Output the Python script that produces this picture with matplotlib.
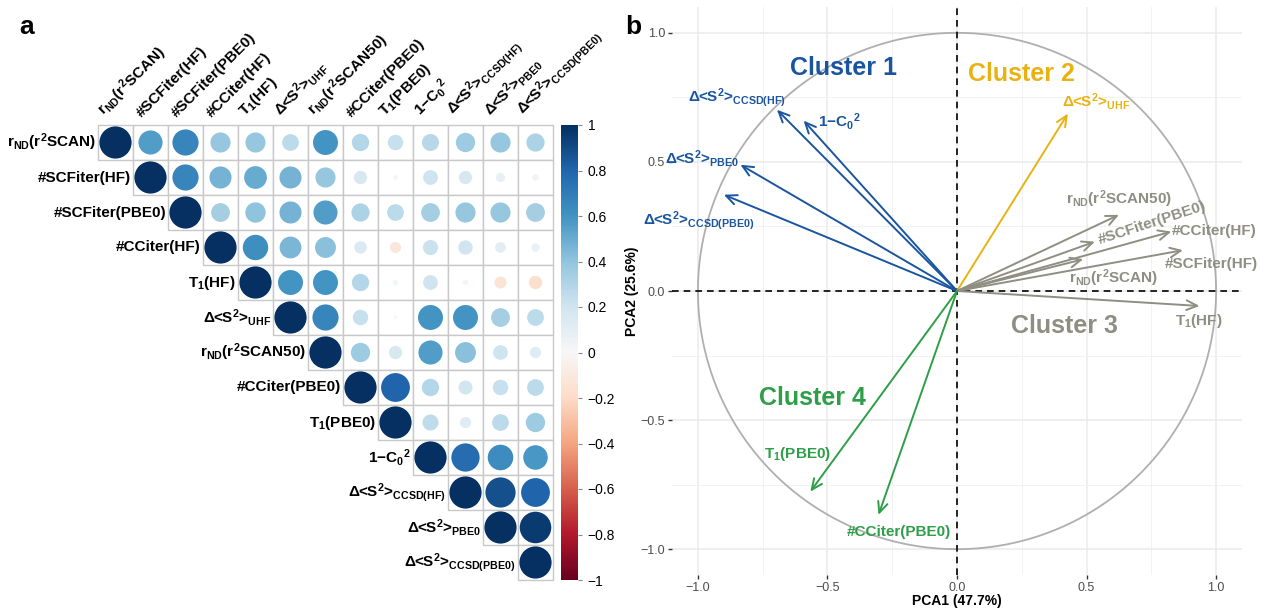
import numpy as np
import matplotlib
matplotlib.use("Agg")
import matplotlib.pyplot as plt
from matplotlib.patches import Circle, Rectangle
from matplotlib.cm import ScalarMappable
from matplotlib.colors import Normalize
from matplotlib.ticker import FuncFormatter

plt.rcParams['font.family'] = ['Liberation Sans', 'DejaVu Sans']
plt.rcParams['mathtext.fontset'] = 'custom'
plt.rcParams['mathtext.rm'] = 'Liberation Sans:bold'
plt.rcParams['mathtext.it'] = 'Liberation Sans:bold'
plt.rcParams['mathtext.bf'] = 'Liberation Sans:bold'
plt.rcParams['axes.unicode_minus'] = True

# ---------------- data ----------------
var_labels = [
    r"r$_{\mathrm{ND}}$(r$^{2}$SCAN)",
    "#SCFiter(HF)",
    "#SCFiter(PBE0)",
    "#CCiter(HF)",
    r"T$_{1}$(HF)",
    r"Δ<S$^{2}$>$_{\mathrm{UHF}}$",
    r"r$_{\mathrm{ND}}$(r$^{2}$SCAN50)",
    "#CCiter(PBE0)",
    r"T$_{1}$(PBE0)",
    r"1−C$_{0}$$^{2}$",
    r"Δ<S$^{2}$>$_{\mathrm{CCSD(HF)}}$",
    r"Δ<S$^{2}$>$_{\mathrm{PBE0}}$",
    r"Δ<S$^{2}$>$_{\mathrm{CCSD(PBE0)}}$",
]

# upper triangle of the correlation matrix, each row starting at the diagonal
corr_upper = [
    [1, 0.56, 0.66, 0.39, 0.39, 0.27, 0.60, 0.29, 0.23, 0.28, 0.36, 0.39, 0.32],
    [1, 0.66, 0.47, 0.50, 0.47, 0.39, 0.17, 0.02, 0.21, 0.17, 0.08, 0.04],
    [1, 0.34, 0.40, 0.47, 0.56, 0.32, 0.27, 0.34, 0.39, 0.39, 0.34],
    [1, 0.62, 0.46, 0.42, 0.15, -0.12, 0.22, 0.20, 0.11, 0.07],
    [1, 0.60, 0.60, 0.29, 0.03, 0.21, -0.03, -0.14, -0.17],
    [1, 0.66, 0.23, 0.01, 0.60, 0.60, 0.34, 0.27],
    [1, 0.36, 0.17, 0.56, 0.42, 0.21, 0.12],
    [1, 0.80, 0.29, 0.19, 0.23, 0.27],
    [1, 0.25, 0.12, 0.27, 0.36],
    [1, 0.77, 0.63, 0.58],
    [1, 0.88, 0.80],
    [1, 0.96],
    [1],
]
cbar_ticks = [1, 0.8, 0.6, 0.4, 0.2, 0, -0.2, -0.4, -0.6, -0.8, -1]

# PCA loadings (PC1, PC2) and cluster membership
pca_labels = [
    r"Δ<S$^{2}$>$_{\mathrm{CCSD(HF)}}$",
    r"1−C$_{0}$$^{2}$",
    r"Δ<S$^{2}$>$_{\mathrm{PBE0}}$",
    r"Δ<S$^{2}$>$_{\mathrm{CCSD(PBE0)}}$",
    r"Δ<S$^{2}$>$_{\mathrm{UHF}}$",
    r"r$_{\mathrm{ND}}$(r$^{2}$SCAN50)",
    "#SCFiter(PBE0)",
    "#CCiter(HF)",
    "#SCFiter(HF)",
    r"r$_{\mathrm{ND}}$(r$^{2}$SCAN)",
    r"T$_{1}$(HF)",
    r"T$_{1}$(PBE0)",
    "#CCiter(PBE0)",
]
pc1 = [-0.695, -0.592, -0.836, -0.900, 0.428, 0.625, 0.532, 0.827, 0.872, 0.487, 0.936, -0.566, -0.303]
pc2 = [0.702, 0.660, 0.489, 0.373, 0.687, 0.295, 0.191, 0.230, 0.158, 0.123, -0.058, -0.777, -0.867]
cluster = [1, 1, 1, 1, 2, 3, 3, 3, 3, 3, 3, 4, 4]
cluster_names = ["Cluster 1", "Cluster 2", "Cluster 3", "Cluster 4"]
pc1_var, pc2_var = 47.7, 25.6

# ---------------- styling / placement ----------------
cluster_colors = {1: "#1A55A0", 2: "#E9B213", 3: "#8E8E82", 4: "#2E9E48"}
label_pos = [(-0.848, 0.750), (-0.455, 0.656), (-0.983, 0.513), (-0.998, 0.272),
             (0.536, 0.734), (0.624, 0.357), (0.755, 0.264), (0.994, 0.233),
             (0.983, 0.105), (0.605, 0.050), (0.933, -0.117), (-0.617, -0.633),
             (-0.224, -0.932)]
label_rot = [0, 0, 0, 0, 0, 0, 18, 0, 0, 0, 0, 0, 0]
cluster_pos = [(-0.439, 0.862), (0.247, 0.839), (0.416, -0.136), (-0.559, -0.416)]

W, H = 1262, 609
fig = plt.figure(figsize=(W / 100, H / 100), dpi=100)

def px_axes(x0, y0, x1, y1):
    return fig.add_axes([x0 / W, 1 - y1 / H, (x1 - x0) / W, (y1 - y0) / H])

# ---------------- panel a: correlation plot ----------------
n = len(var_labels)
corr = np.eye(n)
for i, row in enumerate(corr_upper):
    for k, v in enumerate(row):
        corr[i, i + k] = v
        corr[i + k, i] = v

cmap = plt.get_cmap("RdBu")
norm = Normalize(-1, 1)
cell = 35.0
gx0, gy0 = 98, 125
axa = px_axes(0, 0, 620, 609)
axa.set_xlim(-gx0 / cell, (620 - gx0) / cell)
axa.set_ylim((609 - gy0) / cell, -gy0 / cell)
axa.axis("off")

for i in range(n):
    for j in range(i, n):
        axa.add_patch(Rectangle((j, i), 1, 1, facecolor="white",
                                edgecolor="#C8C8C8", lw=1.0, zorder=1))
for i in range(n):
    for j in range(i, n):
        v = corr[i, j]
        rad = 0.46 * np.sqrt(abs(v))
        axa.add_patch(Circle((j + 0.5, i + 0.5), rad, facecolor=cmap(norm(v)),
                             edgecolor="none", zorder=2))

for i, lab in enumerate(var_labels):
    axa.text(i - 0.06, i + 0.5, lab, ha="right", va="center",
             fontsize=11, fontweight="bold", zorder=3)
    axa.text(i + 0.3, -0.15, lab, ha="left", va="bottom", rotation=45,
             rotation_mode="anchor", fontsize=11, fontweight="bold", zorder=3)

fig.text(27 / W, 1 - 27 / H, "a", fontsize=19, fontweight="bold", ha="center", va="center")

cax = px_axes(561, 125, 578, 580)
cb = fig.colorbar(ScalarMappable(norm=norm, cmap=cmap), cax=cax)
cb.outline.set_visible(False)
cb.set_ticks(cbar_ticks)
cb.set_ticklabels([("−" if t < 0 else "") + (f"{abs(t):g}") for t in cbar_ticks])
cax.tick_params(length=3, width=0.8, color="#888888", labelsize=10, pad=4)

# ---------------- panel b: PCA loadings ----------------
axb = px_axes(672, 7, 1242, 575)
axb.set_xlim(-1.1, 1.1)
axb.set_ylim(-1.1, 1.1)
for s in axb.spines.values():
    s.set_visible(False)
axb.set_xticks([-1.0, -0.5, 0.0, 0.5, 1.0])
axb.set_yticks([-1.0, -0.5, 0.0, 0.5, 1.0])
axb.set_xticks([-0.75, -0.25, 0.25, 0.75], minor=True)
axb.set_yticks([-0.75, -0.25, 0.25, 0.75], minor=True)
fmt = FuncFormatter(lambda v, p: f"{v:.1f}".replace("-", "−"))
axb.xaxis.set_major_formatter(fmt)
axb.yaxis.set_major_formatter(fmt)
axb.grid(True, which="major", color="#EBEBEB", lw=1.1)
axb.grid(True, which="minor", color="#F2F2F2", lw=0.7)
axb.set_axisbelow(True)
axb.tick_params(which="major", length=3, width=1.0, color="#333333",
                labelsize=9, labelcolor="#4D4D4D", pad=2)
axb.tick_params(which="minor", length=0)
axb.set_xlabel(f"PCA1 ({pc1_var}%)", fontsize=10, fontweight="bold", labelpad=0)
axb.set_ylabel(f"PCA2 ({pc2_var}%)", fontsize=10, fontweight="bold", labelpad=1)

theta = np.linspace(0, 2 * np.pi, 400)
axb.plot(np.cos(theta), np.sin(theta), color="#AFAFAF", lw=1.3, zorder=2)
axb.axhline(0, color="black", lw=1.2, ls=(0, (4, 3)), zorder=2)
axb.axvline(0, color="black", lw=1.2, ls=(0, (4, 3)), zorder=2)

for k in range(len(pca_labels)):
    col = cluster_colors[cluster[k]]
    axb.annotate("", xy=(pc1[k], pc2[k]), xytext=(0, 0),
                 arrowprops=dict(arrowstyle="->,head_length=0.55,head_width=0.25",
                                 color=col, lw=1.4, shrinkA=0, shrinkB=0,
                                 mutation_scale=14), zorder=3)
    lx, ly = label_pos[k]
    axb.text(lx, ly, pca_labels[k], color=col, fontsize=11, fontweight="bold",
             ha="center", va="center", rotation=label_rot[k], zorder=4)

for c, (name, (cx, cy)) in enumerate(zip(cluster_names, cluster_pos), start=1):
    axb.text(cx, cy, name, color=cluster_colors[c], fontsize=18,
             fontweight="bold", ha="center", va="center", zorder=4)

fig.text(633 / W, 1 - 27 / H, "b", fontsize=19, fontweight="bold", ha="center", va="center")

fig.savefig("out.png", dpi=100)
